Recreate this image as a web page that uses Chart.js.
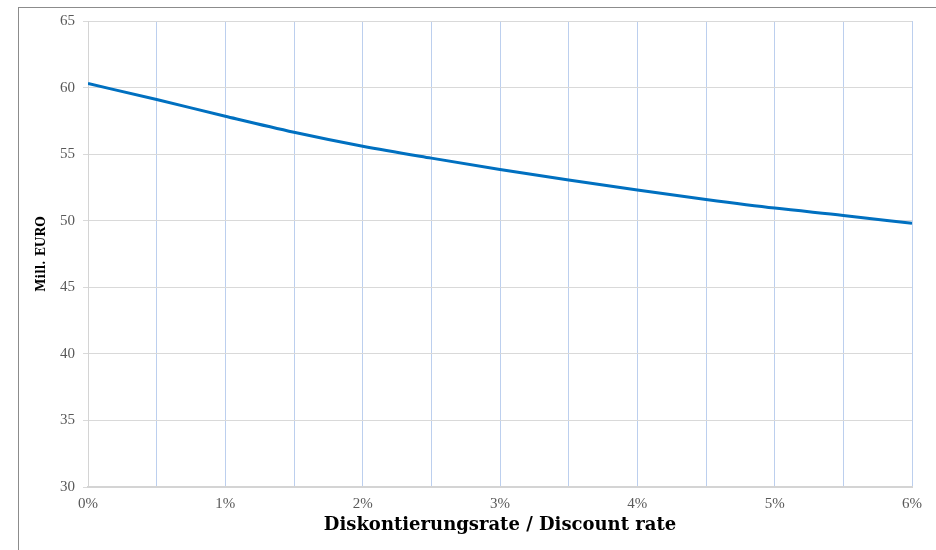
<!DOCTYPE html>
<html>
<head>
<meta charset="utf-8">
<script src="https://cdn.jsdelivr.net/npm/chart.js@4/dist/chart.umd.min.js"></script>
<style>
  html, body { margin: 0; padding: 0; background: #fff; }
  #wrap { position: relative; width: 936px; height: 550px; overflow: hidden; }
  #frame { position: absolute; left: 18px; top: 7px; width: 1000px; height: 700px;
           border-left: 1px solid #8c8c8c; border-top: 1px solid #8c8c8c; }
  canvas { position: absolute; left: 0; top: 0; }
</style>
</head>
<body>
<div id="wrap">
  <div id="frame"></div>
  <canvas id="chart" width="936" height="550"></canvas>
</div>
<script>
// discount rates (%) and present value in Mill. EURO
const rates = [0, 0.5, 1, 1.5, 2, 2.5, 3, 3.5, 4, 4.5, 5, 5.5, 6];
const values = [60.3, 59.1, 57.85, 56.65, 55.6, 54.7, 53.85, 53.05, 52.3, 51.6, 50.95, 50.4, 49.8];
const yTicks = [30, 35, 40, 45, 50, 55, 60, 65];

const serif = "'Liberation Serif', 'DejaVu Serif', serif";
const boldSerif = "'DejaVu Serif', 'Liberation Serif', serif";

new Chart(document.getElementById('chart'), {
  type: 'line',
  data: {
    datasets: [{
      data: rates.map((r, i) => ({ x: r, y: values[i] })),
      borderColor: '#0070c0',
      borderWidth: 3,
      pointRadius: 0,
      cubicInterpolationMode: 'monotone',
      fill: false
    }]
  },
  options: {
    responsive: false,
    animation: false,
    layout: { padding: { left: 0, right: 24, top: 21, bottom: 0 } },
    plugins: { legend: { display: false }, tooltip: { enabled: false } },
    scales: {
      x: {
        type: 'linear',
        min: 0, max: 6,
        afterFit: s => { s.height = 63; },
        grid: { color: '#bccfee', lineWidth: 1, drawTicks: false },
        border: { color: '#d4d4d4', width: 2 },
        ticks: {
          stepSize: 0.5,
          autoSkip: false,
          maxRotation: 0,
          padding: 8,
          color: '#595959',
          font: { family: serif, size: 15 },
          callback: v => (v % 1 === 0 ? v + '%' : '')
        },
        title: {
          display: true,
          text: 'Diskontierungsrate / Discount rate',
          color: '#000',
          font: { family: boldSerif, size: 18, weight: 'bold' },
          padding: { top: 4, bottom: 14 }
        }
      },
      y: {
        min: yTicks[0], max: yTicks[yTicks.length - 1],
        afterFit: s => { s.width = 88; },
        afterBuildTicks: s => { s.ticks = yTicks.map(v => ({ value: v })); },
        grid: { color: '#d9d9d9', lineWidth: 1, tickLength: 5 },
        border: { color: '#d4d4d4', width: 1 },
        ticks: {
          padding: 8,
          color: '#595959',
          font: { family: serif, size: 15 }
        },
        title: {
          display: true,
          text: 'Mill. EURO',
          color: '#000',
          font: { family: boldSerif, size: 12, weight: 'bold' },
          padding: { top: 35, bottom: 0 }
        }
      }
    }
  }
});
</script>
</body>
</html>
